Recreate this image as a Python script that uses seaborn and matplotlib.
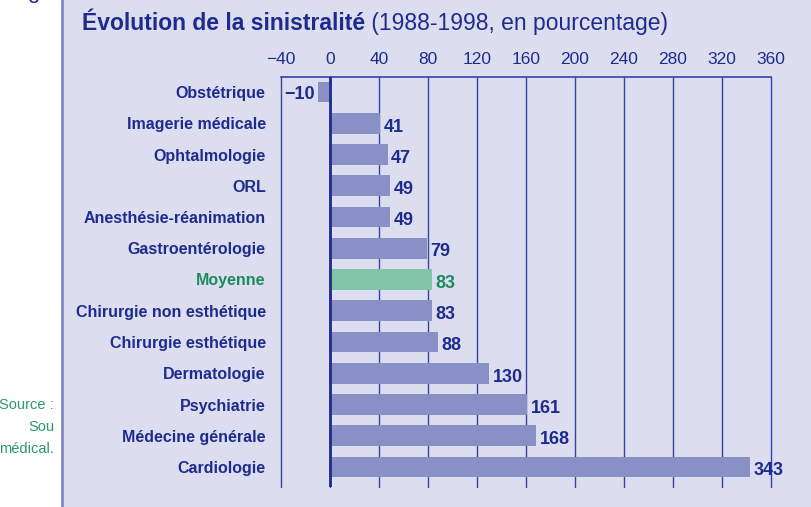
import matplotlib
matplotlib.use("Agg")
import matplotlib.pyplot as plt
import seaborn as sns
import pandas as pd
from matplotlib.patches import Rectangle
from matplotlib import font_manager as fm

categories = ["Obstétrique", "Imagerie médicale", "Ophtalmologie", "ORL",
              "Anesthésie-réanimation", "Gastroentérologie", "Moyenne",
              "Chirurgie non esthétique", "Chirurgie esthétique", "Dermatologie",
              "Psychiatrie", "Médecine générale", "Cardiologie"]
values = [-10, 41, 47, 49, 49, 79, 83, 83, 88, 130, 161, 168, 343]
highlight = "Moyenne"
xticks = [-40, 0, 40, 80, 120, 160, 200, 240, 280, 320, 360]
title_bold = "Évolution de la sinistralité"
title_rest = " (1988-1998, en pourcentage)"
source_lines = ["Source :", "Sou", "médical."]

BLUE = "#1E2B8E"
GREEN = "#1B8C5C"
BAR = "#8890C5"
BAR_HI = "#82C4A8"
BG = "#DCDEEF"
GRID = "#3344A6"

sns.set_theme(style="white")
names = {f.name for f in fm.fontManager.ttflist}
fam = "Liberation Sans Narrow" if "Liberation Sans Narrow" in names else "Liberation Sans"
plt.rcParams["font.family"] = [fam, "DejaVu Sans"]

df = pd.DataFrame({"cat": categories, "val": values})
palette = {c: (BAR_HI if c == highlight else BAR) for c in categories}

fig = plt.figure(figsize=(8.12, 5.07), dpi=100)
fig.patch.set_facecolor("white")
bg = Rectangle((62 / 812, 0), 1, 1, transform=fig.transFigure,
               facecolor=BG, edgecolor="none", zorder=-10)
fig.add_artist(bg)
fig.add_artist(plt.Line2D([62 / 812, 62 / 812], [0, 1], transform=fig.transFigure,
                          color="#7F87C6", lw=2, zorder=-9))

ax = fig.add_axes([281 / 812, 1 - 487 / 507, (771 - 281) / 812, (487 - 77) / 507])
ax.set_facecolor("none")
sns.barplot(data=df, x="val", y="cat", hue="cat", palette=palette, legend=False,
            orient="h", width=0.66, ax=ax, saturation=1, zorder=3, linewidth=0)
ax.set_xlim(-40, 360)
ax.set_ylim(12.64, -0.48)
ax.set_xticks(xticks)
ax.set_xticklabels([("\u2212" + str(-t)) if t < 0 else str(t) for t in xticks])
ax.xaxis.tick_top()
ax.tick_params(axis="x", length=0, pad=7, labelsize=12.5, labelcolor=BLUE)
ax.tick_params(axis="y", length=0, pad=11, labelsize=11.5)
for lab in ax.get_yticklabels():
    lab.set_fontweight("bold")
    lab.set_color(GREEN if lab.get_text() == highlight else BLUE)
ax.set_xlabel("")
ax.set_ylabel("")
ax.grid(axis="x", color=GRID, lw=1, zorder=1)
ax.set_axisbelow(True)
for gl in ax.get_xgridlines():
    gl.set_clip_on(False)
for s in ["bottom", "right", "left"]:
    ax.spines[s].set_visible(False)
ax.spines["top"].set_color(GRID)
ax.spines["top"].set_linewidth(1.2)
ax.axvline(0, color="#1E2B8E", lw=2, zorder=4)

for i, (c, v) in enumerate(zip(categories, values)):
    col = GREEN if c == highlight else BLUE
    if v < 0:
        txt = "\u2212" + str(-v)
        ax.text(-40 + 3, i + 0.08, txt, ha="left", va="center", fontsize=13,
                fontweight="bold", color=col, zorder=5)
    else:
        ax.text(v + 3, i + 0.12, str(v), ha="left", va="center", fontsize=13,
                fontweight="bold", color=col, zorder=5)

t1 = fig.text(82 / 812, 1 - 30 / 507, title_bold, fontsize=16.5, fontweight="bold",
              color=BLUE, ha="left", va="baseline")
fig.canvas.draw()
bb = t1.get_window_extent(renderer=fig.canvas.get_renderer())
fig.text(bb.x1 / 812, 1 - 30 / 507, title_rest, fontsize=16.5, color=BLUE,
         ha="left", va="baseline")

for k, line in enumerate(source_lines):
    fig.text(54 / 812, 1 - (405 + 22 * k) / 507, line, fontsize=10.5, color="#2A9A6A",
             ha="right", va="center")
fig.text(33 / 812, 1 + 2 / 507, "g", fontsize=16, color=BLUE, ha="center", va="baseline")

fig.savefig("out.png", dpi=100, facecolor="white")
